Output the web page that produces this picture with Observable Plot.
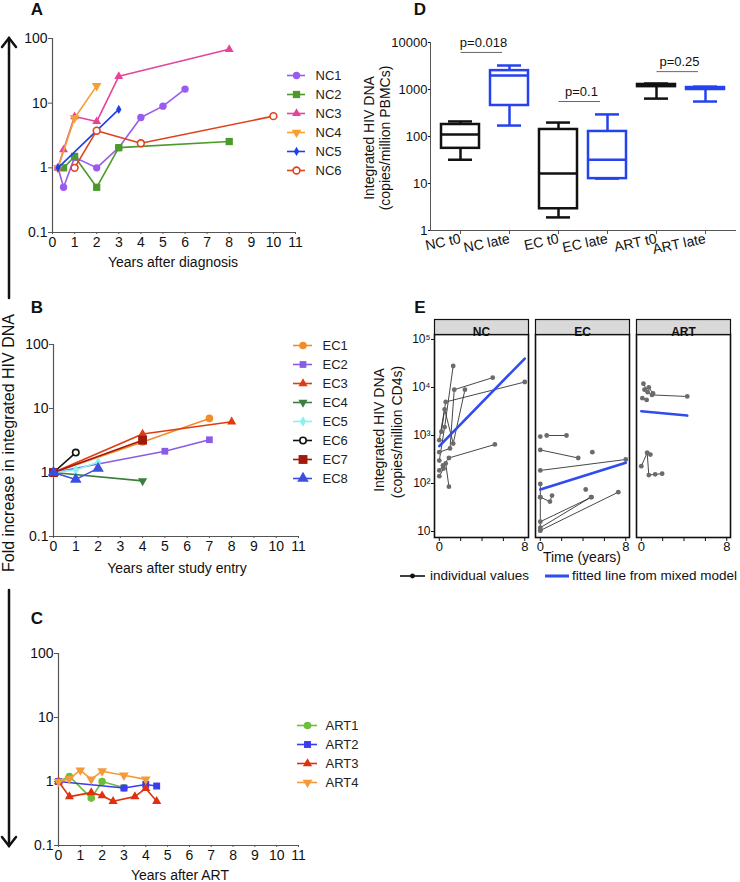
<!DOCTYPE html>
<html><head><meta charset="utf-8">
<script src="https://cdn.jsdelivr.net/npm/d3@7"></script>
<script src="https://cdn.jsdelivr.net/npm/@observablehq/plot@0.6"></script>
<style>
body{margin:0;background:#fff;font-family:"Liberation Sans",Arial,sans-serif;}
#root{position:relative;width:740px;height:882px;overflow:hidden;background:#fff;}
</style></head><body><div id="root"></div>
<script>
// ---------- DATA ----------
const yearTicks = [0,1,2,3,4,5,6,7,8,9,10,11];
const foldTicks = [0.1,1,10,100];

const ncNames = ["NC1","NC2","NC3","NC4","NC5","NC6"];
const ncColors = ["#9a5cf0","#4c9a2a","#e6449a","#f5a033","#1f3fe6","#e2411f"];
const ncYears = [[0.25,0.5,1,2,3,4,5,6],[0.5,1,2,3,8],[0.25,0.5,1,2,3,8],[0.25,1,2],[0.25,3],[1,2,4,10]];
const ncFold  = [[1,0.5,1.45,1,2.05,6,9,16.5],[1,1.5,0.5,2.05,2.55],[1,1.9,6.2,5.2,26,68],[1,5.9,18.5],[1,8],[1,3.75,2.4,6.3]];

const ecNames = ["EC1","EC2","EC3","EC4","EC5","EC6","EC7","EC8"];
const ecColors = ["#f28c28","#8a5ce6","#e03c12","#3d7d3d","#8af0f0","#111111","#a3190b","#3b4fe0"];
const ecYears = [[0,4,7],[0,5,7],[0,4,8],[0,4],[0,1,2],[0,1],[0,4],[0,1,2]];
const ecFold  = [[1,3,7],[1,2.15,3.25],[1,4,6.2],[1,0.74],[1,1.1,1.45],[1,2.05],[1,3.2],[1,0.78,1.16]];

const artNames = ["ART1","ART2","ART3","ART4"];
const artColors = ["#6cbf3a","#3b3bf0","#e03010","#f59a3a"];
const artYears = [[0,0.5,1.5,2,3],[0,3,4,4.5],[0,0.5,1.5,2,2.5,3.5,4,4.5],[0,0.5,1,1.5,2,3,4]];
const artFold  = [[1,1.2,0.55,1,0.8],[1,0.79,0.9,0.85],[1,0.58,0.67,0.6,0.49,0.58,0.78,0.49],[1,1.1,1.5,1.08,1.45,1.25,1.08]];

const dGroups = ["NC t0","NC late","EC t0","EC late","ART t0","ART late"];
const dKind   = ["t0","late","t0","late","t0","late"];
const dMin = [32,171,1.9,12.7,640,555];
const dQ1  = [56,457,2.9,12.7,1150,1000];
const dMed = [110,1980,16.3,32,1200,1050];
const dQ3  = [180,2520,141,128,1280,1100];
const dMax = [209,3240,198,295,1340,1150];
const dTicks = [1,10,100,1000,10000];
const pFrom = ["NC t0","EC t0","ART t0"];
const pTo   = ["NC late","EC late","ART late"];
const pText = ["p=0.018","p=0.1","p=0.25"];
const pLevel = [6150,555,2400];

const eGroups = ["NC","EC","ART"];
const eTicksY = [10,100,1000,10000,100000];
const eTickLabels = ["10","10²","10³","10⁴","10⁵"];
const eSerGroup = ["NC","NC","NC","NC","NC","NC",
                   "EC","EC","EC","EC","EC","EC","EC","EC","EC","EC","EC",
                   "ART","ART","ART","ART","ART"];
const eSerT = [
  [0,0.4,0.6,0.9],[0,0.34,0.9,5.2],[0,0.5,1.3],[0,1.0,1.4,5],[0,0.6,8],[0.2,0.5,1.3,2.4],
  [0.6,2.45],[0,3.55],[0,8],[4.87],[0,0,0.9,1.1],[4.25],[0,4.8],[0,4.75],[0,7.3],[0],[0,0],
  [0,0.55,0.7,1.3,1.95],[0.55,0.85],[0.2,0.6,1.0,4.3],[0.3,0.7,1.1],[0.1,0.5]
];
const eSerV = [
  [142,205,262,86],[187,237,340,650],[300,1500,28000],[450,537,9000,16000],[800,5000,13000],[1200,3500,680,9000],
  [1000,1000],[500,340],[187,316],[450],[98,52,42,56],[75],[16,52],[12,52],[10.5,66],[950],[52,10.5],
  [230,435,150,155,160],[435,400],[12000,8000,7000,6500],[9000,10000,7500],[6000,5500]
];
const eFitT0 = [0,0,0], eFitT1 = [8,8,4.3];
const eFitV0 = [600,75,3200], eFitV1 = [40000,270,2600];

// ---------- HELPERS ----------
const root = document.getElementById("root");
const FONT = "'Liberation Sans', Arial, sans-serif";
const baseStyle = {fontFamily: FONT, fontSize: "13px", color: "#111", background: "transparent", overflow: "visible"};
function place(node, left, top) {
  node.style.position = "absolute"; node.style.left = left + "px"; node.style.top = top + "px";
  root.appendChild(node);
}
function label(str, cx, cy, size, opt = {}) {
  const d = document.createElement("div");
  d.textContent = str;
  Object.assign(d.style, {position: "absolute", left: cx + "px", top: cy + "px",
    transform: "translate(-50%,-50%)" + (opt.rotate ? ` rotate(${opt.rotate}deg)` : ""),
    fontSize: size + "px", fontWeight: opt.bold ? "bold" : "normal", whiteSpace: "nowrap",
    lineHeight: "1", color: "#111", fontFamily: FONT});
  root.appendChild(d);
}
const triDown = {draw(ctx, size) {
  const y = -Math.sqrt(size / (Math.sqrt(3) * 3));
  ctx.moveTo(0, -y * 2); ctx.lineTo(-Math.sqrt(3) * y, y); ctx.lineTo(Math.sqrt(3) * y, y); ctx.closePath();
}};

function foldPlot(cfg) {
  const marks = [
    Plot.ruleX([0], {stroke: "#555", strokeWidth: 1.2}),
    Plot.ruleY([0.1], {stroke: "#555", strokeWidth: 1.2}),
    Plot.axisY({ticks: foldTicks, tickFormat: d => String(d), tickSize: 4, tickPadding: 1, fontSize: 14, stroke: "#555", label: null}),
    Plot.axisX({ticks: yearTicks, tickSize: 2, tickPadding: 3, fontSize: 14, stroke: "#555", label: null})
  ];
  cfg.names.forEach((n, i) => {
    const rows = cfg.years[i].map((t, j) => ({t, v: cfg.fold[i][j]}));
    marks.push(Plot.line(rows, {x: "t", y: "v", stroke: cfg.colors[i], strokeWidth: 1.6}));
    marks.push(Plot.dot(rows, {x: "t", y: "v", symbol: cfg.syms[i], r: cfg.radii[i],
      fill: cfg.hollow[i] ? "white" : cfg.colors[i], stroke: cfg.hollow[i] ? cfg.colors[i] : "none", strokeWidth: 1.6}));
  });
  return Plot.plot({width: cfg.width, height: cfg.height, marginLeft: cfg.ml, marginRight: cfg.width - cfg.xEnd,
    marginTop: cfg.mt, marginBottom: cfg.mb, x: {domain: [0, 11], label: null}, y: {type: "log", domain: [0.1, 100], label: null},
    style: baseStyle, marks});
}
function legendPlot(cfg) {
  const W = 90, H = cfg.names.length * cfg.rowH;
  const marks = [];
  cfg.names.forEach((n, i) => {
    const row = [{n}];
    marks.push(Plot.ruleY(row, {y: "n", x1: () => 0, x2: () => 1, stroke: cfg.colors[i], strokeWidth: 1.6}));
    marks.push(Plot.dot(row, {y: "n", x: () => 0.5, symbol: cfg.syms[i], r: cfg.radii[i],
      fill: cfg.hollow[i] ? "white" : cfg.colors[i], stroke: cfg.hollow[i] ? cfg.colors[i] : "none", strokeWidth: 1.6}));
    marks.push(Plot.text(row, {y: "n", x: () => 1, text: "n", dx: cfg.dx, textAnchor: "start", fontSize: 13, fill: "#222"}));
  });
  return Plot.plot({width: W, height: H, marginLeft: 0, marginTop: 0, marginBottom: 0, marginRight: W - cfg.lineW,
    x: {domain: [0, 1], axis: null, label: null}, y: {type: "point", domain: cfg.names, padding: 0.5, axis: null, label: null},
    style: baseStyle, marks});
}

// ---------- BIG ARROW ----------
const arrow = document.createElementNS("http://www.w3.org/2000/svg", "svg");
arrow.setAttribute("width", "20"); arrow.setAttribute("height", "882");
arrow.innerHTML = `<g stroke="#111" stroke-width="2.5" fill="none" stroke-linecap="round">
<line x1="9" y1="38" x2="9" y2="298"/><polyline points="2,47 9,38 16,47"/>
<line x1="9" y1="590" x2="9" y2="846"/><polyline points="2,837 9,846 16,837"/></g>`;
place(arrow, 0, 0);
label("Fold increase in integrated HIV DNA", 9, 443, 16, {rotate: -90});

// ---------- PANEL A ----------
label("A", 37, 9, 17, {bold: true});
place(foldPlot({names: ncNames, colors: ncColors, years: ncYears, fold: ncFold,
  syms: ["circle","square","triangle",triDown,"diamond","circle"], radii: [3.7,4.1,3.3,3.6,2.8,3.4],
  hollow: [false,false,false,false,false,true], width: 310, height: 275, ml: 52, xEnd: 295, mt: 38, mb: 43}), 0, 0);
place(legendPlot({names: ncNames, colors: ncColors, syms: ["circle","square","triangle",triDown,"diamond","circle"],
  radii: [3.7,4.1,3.3,3.6,2.8,3.4], hollow: [false,false,false,false,false,true], rowH: 19.2, lineW: 18, dx: 10}), 287, 65.4);
label("Years after diagnosis", 173, 262, 14);

// ---------- PANEL B ----------
label("B", 37, 307, 17, {bold: true});
const ecSyms = ["circle","square","triangle",triDown,"diamond","circle","square","triangle"];
const ecR = [3.8,3.8,3.4,3.4,3.2,3.2,5,4.3];
const ecHollow = [false,false,false,false,false,true,false,false];
place(foldPlot({names: ecNames, colors: ecColors, years: ecYears, fold: ecFold, syms: ecSyms, radii: ecR, hollow: ecHollow,
  width: 310, height: 276, ml: 53, xEnd: 298, mt: 44, mb: 40}), 0, 300);
place(legendPlot({names: ecNames, colors: ecColors, syms: ecSyms, radii: ecR, hollow: ecHollow, rowH: 19.15, lineW: 19, dx: 10}), 293, 335.4);
label("Years after study entry", 177, 568, 14);

// ---------- PANEL C ----------
label("C", 37, 618, 17, {bold: true});
const artSyms = ["circle","square","triangle",triDown];
const artR = [3.8,3.9,3.4,3.6];
const artHollow = [false,false,false,false];
place(foldPlot({names: artNames, colors: artColors, years: artYears, fold: artFold, syms: artSyms, radii: artR, hollow: artHollow,
  width: 310, height: 265, ml: 58, xEnd: 298, mt: 43, mb: 30}), 0, 610);
place(legendPlot({names: artNames, colors: artColors, syms: artSyms, radii: artR, hollow: artHollow, rowH: 19.4, lineW: 20, dx: 8}), 297, 715.3);
label("Years after ART", 180, 875, 14);

// ---------- PANEL D ----------
label("D", 420, 9, 17, {bold: true});
const dRows = dGroups.map((g, i) => ({g, k: dKind[i], min: dMin[i], q1: dQ1[i], med: dMed[i], q3: dQ3[i], max: dMax[i]}));
const pRows = pFrom.map((a, i) => ({a, b: pTo[i], p: pText[i], y: pLevel[i]}));
const plotD = Plot.plot({
  width: 370, height: 270, marginLeft: 60, marginRight: 5, marginTop: 42, marginBottom: 40,
  x: {type: "band", domain: dGroups, paddingInner: 0.22, paddingOuter: 0.16, label: null},
  y: {type: "log", domain: [1, 10000], label: null},
  color: {domain: ["t0","late"], range: ["#111111","#2442f0"]},
  style: baseStyle,
  marks: [
    Plot.frame({anchor: "left", stroke: "#555"}),
    Plot.frame({anchor: "bottom", stroke: "#555"}),
    Plot.axisY({ticks: dTicks, tickFormat: d => String(d), tickSize: 2, tickPadding: 1, fontSize: 13, label: null}),
    Plot.axisX({tickRotate: -12, tickSize: 4, tickPadding: 4, fontSize: 14, stroke: "#555", label: null}),
    Plot.ruleX(dRows, {x: "g", y1: "min", y2: "q1", stroke: "k", strokeWidth: 2.5}),
    Plot.ruleX(dRows, {x: "g", y1: "q3", y2: "max", stroke: "k", strokeWidth: 2.5}),
    Plot.barY(dRows, {x: "g", y1: "q1", y2: "q3", fill: "white", stroke: "k", strokeWidth: 2.5}),
    Plot.tickY(dRows, {x: "g", y: "med", stroke: "k", strokeWidth: 2.5}),
    Plot.tickY(dRows, {x: "g", y: "min", stroke: "k", strokeWidth: 2.5, insetLeft: 7, insetRight: 7}),
    Plot.tickY(dRows, {x: "g", y: "max", stroke: "k", strokeWidth: 2.5, insetLeft: 7, insetRight: 7}),
    Plot.ruleY(pRows, {y: "y", x1: "a", x2: "b", insetLeft: 19.5, insetRight: 26, stroke: "#666", strokeWidth: 1}),
    Plot.text(pRows, {x: "a", y: "y", text: "p", dx: 23, dy: -10, fontSize: 13})
  ]
});
place(plotD, 370, 0);
label("Integrated HIV DNA", 369, 138, 14, {rotate: -90});
label("(copies/million PBMCs)", 385, 138, 14, {rotate: -90});

// ---------- PANEL E ----------
label("E", 420, 307, 17, {bold: true});
const eRows = [];
eSerT.forEach((ts, i) => ts.forEach((t, j) => eRows.push({g: eSerGroup[i], id: i, t, v: eSerV[i][j]})));
const fitRows = [];
eGroups.forEach((g, i) => { fitRows.push({g, t: eFitT0[i], v: eFitV0[i]}); fitRows.push({g, t: eFitT1[i], v: eFitV1[i]}); });
const eH = 255, eMT = 34, eMB = 18, eInner = eH - eMT - eMB;
const plotE = Plot.plot({
  width: 370, height: eH, marginLeft: 63, marginRight: 10, marginTop: eMT, marginBottom: eMB,
  fx: {domain: eGroups, paddingInner: 0.073, paddingOuter: 0, axis: null, label: null},
  x: {domain: [-0.45, 8.35], label: null},
  y: {type: "log", domain: [7.5, 127000], label: null},
  style: baseStyle,
  marks: [
    Plot.frame({stroke: "#111", strokeWidth: 1.6}),
    Plot.frame({fill: "#d9d9d9", stroke: "#111", strokeWidth: 1.2, insetTop: -15, insetBottom: eInner}),
    Plot.text(eGroups, {fx: d => d, text: d => d, frameAnchor: "top", dy: -7.5, fontWeight: "bold", fontSize: 12}),
    Plot.axisY({ticks: eTicksY, tickFormat: d => eTickLabels[eTicksY.indexOf(d)], tickSize: 3, tickPadding: 1, fontSize: 12, label: null}),
    Plot.axisX({ticks: [0,2,4,6,8], tickFormat: d => (d === 0 || d === 8) ? String(d) : "", tickSize: 4, tickPadding: 0, fontSize: 13, label: null}),
    Plot.line(eRows, {fx: "g", x: "t", y: "v", z: "id", stroke: "#333", strokeWidth: 0.9}),
    Plot.dot(eRows, {fx: "g", x: "t", y: "v", r: 2.4, fill: "#6b6b6b"}),
    Plot.line(fitRows, {fx: "g", x: "t", y: "v", z: "g", stroke: "#2f4cf0", strokeWidth: 2.6})
  ]
});
place(plotE, 370, 300);
label("Integrated HIV DNA", 379, 430, 14, {rotate: -90});
label("(copies/million CD4s)", 397, 432, 14, {rotate: -90});
label("Time (years)", 582, 557, 14);
const eLeg = document.createElementNS("http://www.w3.org/2000/svg", "svg");
eLeg.setAttribute("width", "180"); eLeg.setAttribute("height", "12");
eLeg.innerHTML = `<line x1="0" y1="6" x2="25" y2="6" stroke="#111" stroke-width="1.6"/><circle cx="12.5" cy="6" r="2.4" fill="#111"/>
<line x1="145" y1="6" x2="169" y2="6" stroke="#2f4cf0" stroke-width="3"/>`;
place(eLeg, 400, 570);
const t1 = document.createElement("div"); t1.textContent = "individual values";
Object.assign(t1.style, {fontSize: "13.5px", fontFamily: FONT, lineHeight: "1", whiteSpace: "nowrap", color: "#111"});
place(t1, 430, 569);
const t2 = document.createElement("div"); t2.textContent = "fitted line from mixed model";
Object.assign(t2.style, {fontSize: "13.5px", fontFamily: FONT, lineHeight: "1", whiteSpace: "nowrap", color: "#111"});
place(t2, 572, 569);
</script></body></html>
